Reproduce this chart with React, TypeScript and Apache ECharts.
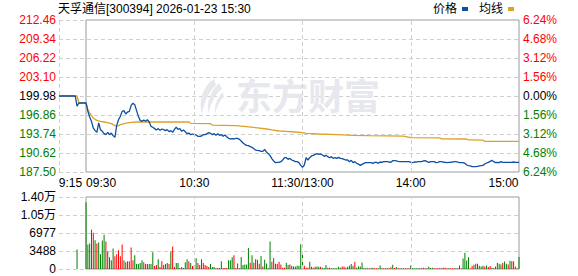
import React, { useEffect, useRef } from 'react';
import * as echarts from 'echarts';

const TITLE = '天孚通信[300394] 2026-01-23 15:30';
const PREV_CLOSE = 199.98;
const PRICE_MIN = 187.5;
const PRICE_MAX = 212.46;
const PRICE_STEP = 3.12;
const VOL_MAX = 13954;
const VOL_STEP = 3488.5;
const X_MAX = 255;
const X_LABELS: Record<number, string> = { 0: '9:15', 15: '09:30', 75: '10:30', 135: '11:30/13:00', 195: '14:00', 255: '15:00' };
const X_GRID_TOP = [0, 75, 135, 195];
const X_GRID_VOL = [75, 135, 195];
const LEGEND = ['价格', '均线'];

// minute index 0 = 9:15, 15 = 9:30, 135 = 11:30/13:00, 255 = 15:00
const PRICE: number[] = [
  199.98, 199.98, 199.98, 199.98, 199.98, 199.98, 199.98, 199.98, 199.98, 199.98,
  198.30, 198.83, 198.83, 198.83, 198.83, 198.83, 197.46, 196.53, 195.82, 194.73,
  194.29, 194.01, 195.55, 194.45, 194.18, 193.79, 193.63, 194.01, 193.63, 193.90,
  193.47, 193.20, 195.16, 196.09, 196.64, 197.46, 197.57, 197.03, 197.35, 197.46,
  198.45, 198.78, 198.56, 197.57, 196.64, 195.98, 195.82, 196.04, 195.82, 196.09,
  195.71, 195.00, 194.84, 194.62, 194.40, 194.62, 194.34, 194.56, 194.45, 194.29,
  194.45, 194.12, 194.29, 194.01, 194.51, 194.84, 194.51, 194.62, 194.18, 194.40,
  194.12, 193.79, 193.90, 193.63, 193.74, 193.63, 193.58, 193.36, 193.36, 193.41,
  193.63, 193.63, 193.79, 193.96, 193.85, 193.63, 193.79, 193.52, 193.79, 193.52,
  193.63, 193.36, 193.58, 193.30, 193.03, 192.92, 192.97, 192.92, 193.03, 193.03,
  192.86, 192.59, 192.26, 192.04, 191.88, 191.82, 191.66, 191.55, 191.33, 191.11,
  191.06, 191.00, 190.89, 190.89, 191.22, 190.78, 190.51, 190.18, 189.69, 189.31,
  189.03, 189.09, 189.09, 189.20, 189.47, 189.85, 189.85, 189.58, 189.74, 189.47,
  189.36, 189.20, 189.20, 189.03, 188.59, 188.27, 188.65, 189.85, 189.47, 189.85,
  190.13, 190.24, 190.40, 190.51, 190.40, 190.46, 190.29, 190.07, 190.24, 190.02,
  189.85, 190.02, 189.74, 189.85, 189.74, 189.91, 189.74, 189.69, 189.58, 189.47,
  189.47, 189.20, 189.42, 189.03, 189.20, 188.92, 188.81, 188.59, 188.76, 188.92,
  189.03, 189.03, 189.03, 189.03, 188.92, 189.09, 189.09, 188.92, 189.14, 189.09,
  189.20, 189.20, 189.20, 189.14, 189.09, 189.36, 189.36, 189.31, 189.25, 189.20,
  189.20, 189.20, 189.20, 189.20, 189.20, 189.09, 189.03, 189.14, 189.14, 189.20,
  189.20, 189.20, 189.31, 189.36, 189.20, 189.09, 189.20, 189.20, 189.20, 189.03,
  189.09, 189.20, 189.20, 189.14, 189.09, 189.03, 189.09, 189.09, 189.14, 189.20,
  189.20, 189.14, 189.03, 189.03, 189.03, 188.92, 188.65, 188.54, 188.49, 188.38,
  188.38, 188.38, 188.43, 188.49, 188.54, 188.59, 188.81, 188.98, 189.09, 189.25,
  189.42, 189.20, 189.03, 189.09, 189.03, 189.20, 189.09, 189.09, 189.09, 189.09,
  189.09, 189.09, 189.14, 189.09, 189.09, 189.09,
];

// average line vertices: [minute index, price]
const AVG_LINE: [number, number][] = [
  [0, 199.98], [10, 199.98], [11, 198.83], [15, 198.83], [16, 197.74], [17, 197.2], [18, 196.75],
  [19, 196.37], [20, 196.15], [21, 195.98], [23, 195.82], [25, 195.71], [27, 195.6], [29, 195.44],
  [31, 195.11], [32, 195.05], [33, 195.11], [34, 195.27], [36, 195.44], [38, 195.55], [40, 195.66],
  [43, 195.71], [72, 195.71], [73, 195.49], [84, 195.44], [85, 195.2], [98, 195.1], [104, 194.94],
  [109, 194.78], [115, 194.56], [118, 194.4], [122, 194.23], [126, 194.18], [131, 194.07],
  [135, 193.96], [137, 193.85], [144, 193.74], [154, 193.63], [163, 193.52], [172, 193.46],
  [191, 193.4], [195, 193.13], [211, 193.1], [212, 192.95], [226, 192.92], [227, 192.76],
  [235, 192.74], [236, 192.52], [255, 192.52],
];

const VOLUME: number[] = [
  0, 0, 0, 0, 0, 0, 0, 0, 0, 0,
  3800, 0, 0, 0, 0, 12934, 4755, 4945, 7608, 7037,
  5579, 4945, 5135, 2853, 5516, 6657, 5326, 3424, 2282, 1712,
  3994, 2473, 2853, 3614, 2473, 4755, 1712, 1331, 1522, 1522,
  4184, 1712, 2663, 951, 951, 1141, 1712, 1331, 951, 951,
  951, 951, 3233, 571, 761, 1902, 380, 1522, 761, 951,
  1141, 951, 3424, 4375, 380, 1141, 1141, 190, 380, 190,
  1331, 1902, 1522, 1141, 571, 761, 2092, 1141, 761, 1902,
  1141, 761, 571, 380, 951, 380, 380, 127, 190, 190,
  1522, 190, 190, 190, 1712, 1712, 2282, 2663, 190, 1050,
  127, 2346, 761, 888, 888, 4058, 1205, 2663, 1205, 1902,
  1775, 1014, 2536, 507, 1775, 1078, 190, 5326, 1395, 2156,
  1014, 1014, 1395, 888, 254, 254, 1205, 761, 888, 634,
  507, 507, 634, 634, 4818, 2916, 634, 254, 254, 1395,
  444, 254, 444, 507, 444, 444, 254, 190, 761, 254,
  254, 127, 127, 127, 127, 444, 254, 507, 507, 254,
  444, 634, 951, 634, 1395, 254, 507, 507, 1268, 127,
  127, 127, 127, 127, 254, 127, 127, 127, 697, 127,
  127, 127, 127, 127, 317, 824, 190, 380, 127, 127,
  127, 127, 127, 127, 127, 697, 127, 127, 127, 127,
  127, 127, 254, 127, 127, 444, 190, 254, 127, 127,
  127, 127, 127, 254, 254, 127, 127, 127, 127, 127,
  127, 127, 697, 127, 2029, 3170, 1648, 2282, 127, 571,
  824, 1014, 1014, 634, 507, 634, 507, 697, 380, 571,
  254, 127, 507, 1205, 1014, 888, 1141, 1458, 1014, 888,
  1585, 1522, 1522, 507, 127, 2346,
];

// 1 = up minute (red), 0 = down minute (green)
const VOL_UP: number[] = [
  0, 0, 0, 0, 0, 0, 0, 0, 0, 0,
  0, 0, 0, 0, 0, 0, 0, 0, 0, 1,
  0, 1, 0, 0, 0, 0, 1, 0, 1, 0,
  0, 1, 1, 1, 1, 1, 0, 1, 1, 1,
  1, 1, 0, 0, 0, 0, 0, 1, 1, 1,
  0, 0, 0, 1, 1, 0, 1, 1, 0, 0,
  0, 1, 0, 1, 1, 0, 0, 1, 0, 0,
  0, 0, 1, 0, 1, 1, 0, 1, 1, 0,
  1, 1, 1, 1, 0, 0, 0, 1, 1, 1,
  0, 1, 1, 1, 0, 0, 0, 1, 1, 1,
  0, 0, 0, 0, 0, 0, 1, 0, 1, 0,
  1, 1, 0, 1, 0, 0, 0, 0, 1, 0,
  0, 1, 1, 1, 1, 1, 0, 0, 1, 0,
  0, 0, 0, 0, 0, 0, 1, 1, 1, 0,
  1, 1, 1, 0, 0, 1, 0, 0, 0, 1,
  1, 0, 0, 0, 0, 0, 0, 1, 1, 0,
  0, 1, 0, 0, 1, 0, 0, 0, 0, 0,
  0, 0, 0, 1, 0, 1, 1, 0, 0, 1,
  1, 1, 0, 1, 1, 0, 1, 0, 1, 0,
  1, 1, 0, 1, 1, 0, 0, 0, 0, 0,
  1, 1, 1, 0, 1, 0, 0, 0, 1, 1,
  1, 0, 1, 1, 1, 1, 0, 1, 1, 1,
  0, 1, 0, 1, 0, 0, 0, 0, 1, 1,
  0, 1, 1, 0, 0, 0, 1, 0, 1, 1,
  0, 1, 1, 0, 0, 0, 1, 0, 0, 1,
  0, 1, 1, 1, 1, 0,
];

const RED = '#ff0000';
const GREEN = '#008000';
const BLUE = '#0d4fa3';
const ORANGE = '#dda225';
const GRID_LINE = '#cfcfcf';
const BOX = '#999999';
const WM = '#e7e8ed';
const FONT = '"Liberation Sans", Arial, "Noto Sans CJK SC", sans-serif';

const LOGO_D =
  'M16 0 C6 6 0 20 4 35 C6 24 10 14 18 6 Z M21 4 C12 12 9 24 10 35 C13 24 17 15 24 10 Z M25 13 C19 19 16 27 17 35 C19 27 22 21 26 18 Z';
let logoRegistered = false;
function ensureLogo() {
  if (logoRegistered) return;
  echarts.graphic.registerShape('dfcfLogo', echarts.graphic.extendPath(LOGO_D, {}) as any);
  logoRegistered = true;
}

function priceColor(v: number) {
  const d = v - PREV_CLOSE;
  if (d > 0.001) return RED;
  if (d < -0.001) return GREEN;
  return '#000000';
}

export default function App() {
  const ref = useRef<HTMLDivElement>(null);
  useEffect(() => {
    if (!ref.current) return;
    ensureLogo();
    const chart = echarts.init(ref.current, undefined, { renderer: 'svg' });

    const priceData = PRICE.map((p, i) => [i, p]);
    const volData = VOLUME.map((v, i) => ({ v, i }))
      .filter((d) => d.v > 0)
      .map((d) => ({ value: [d.i, d.v], itemStyle: { color: VOL_UP[d.i] ? RED : GREEN } }));

    const dashed = { type: [4, 3] as any, color: GRID_LINE, width: 1 };
    const vMarkLine = (vals: number[]) => ({
      silent: true,
      symbol: ['none', 'none'],
      label: { show: false },
      lineStyle: dashed,
      emphasis: { disabled: true },
      animation: false,
      data: vals.map((x) => ({ xAxis: x })),
    });

    const hiddenX = (gridIndex: number) => ({ type: 'value', gridIndex, min: 0, max: X_MAX, show: false });
    const hiddenY = (gridIndex: number) => ({ type: 'value', gridIndex, min: 0, max: 1, show: false });

    const option: any = {
      animation: false,
      backgroundColor: '#ffffff',
      textStyle: { fontFamily: FONT },
      title: {
        text: TITLE,
        left: 58,
        top: 3,
        padding: 0,
        textStyle: { fontSize: 12, fontWeight: 'normal', color: '#000', fontFamily: FONT },
      },
      legend: {
        data: LEGEND.map((n) => ({ name: n, icon: 'rect' })),
        right: 64,
        top: 3,
        padding: 0,
        align: 'right',
        itemWidth: 6,
        itemHeight: 4,
        itemGap: 11,
        selectedMode: false,
        textStyle: { fontSize: 12, color: '#000', fontFamily: FONT },
      },
      graphic: [
        { type: 'dfcfLogo', x: 198, y: 79, silent: true, z: 1, style: { fill: WM } },
        {
          type: 'text',
          x: 236,
          y: 76,
          silent: true,
          z: 1,
          style: { text: '东方财富', fontSize: 36, fontWeight: 'bold', fontFamily: '"Noto Sans CJK SC"', fill: WM },
        },
      ],
      grid: [
        { left: 59, right: 59, top: 20, height: 152, outerBoundsMode: 'none' },
        { left: 86, right: 59, top: 20, height: 152, show: true, borderColor: BOX, borderWidth: 1, backgroundColor: 'transparent', outerBoundsMode: 'none' },
        { left: 59, right: 59, top: 197, height: 72, outerBoundsMode: 'none' },
        { left: 86, right: 59, top: 197, height: 72, show: true, borderColor: BOX, borderWidth: 1, backgroundColor: 'transparent', outerBoundsMode: 'none' },
      ],
      xAxis: [
        {
          type: 'value',
          gridIndex: 0,
          min: 0,
          max: X_MAX,
          interval: 15,
          axisLine: { show: false },
          axisTick: { show: false },
          splitLine: { show: false },
          axisLabel: {
            margin: 5,
            fontSize: 12,
            color: '#000',
            fontFamily: FONT,
            showMinLabel: true,
            showMaxLabel: true,
            formatter: (v: number) => {
              const s = X_LABELS[Math.round(v)];
              if (!s) return '';
              if (v === 0) return `{a|${s}}`;
              if (v === 15) return `{b|${s}}`;
              if (v === X_MAX) return `{r|${s}}`;
              return `{c|${s}}`;
            },
            rich: {
              a: { fontSize: 12, fontFamily: FONT, color: '#000', padding: [0, 0, 0, 23] },
              b: { fontSize: 12, fontFamily: FONT, color: '#000', padding: [0, 0, 0, 30] },
              r: { fontSize: 12, fontFamily: FONT, color: '#000', padding: [0, 31, 0, 0] },
              c: { fontSize: 12, fontFamily: FONT, color: '#000' },
            },
          },
        },
        hiddenX(1),
        hiddenX(2),
        hiddenX(3),
      ],
      yAxis: [
        {
          type: 'value',
          gridIndex: 0,
          min: PRICE_MIN,
          max: PRICE_MAX,
          interval: PRICE_STEP,
          axisLine: { show: false },
          axisTick: { show: false },
          splitLine: { show: true, lineStyle: dashed },
          axisLabel: {
            margin: 3,
            fontSize: 12,
            fontFamily: FONT,
            formatter: (v: number) => Number(v).toFixed(2),
            color: (v: any) => priceColor(Number(v)),
          },
        },
        {
          type: 'value',
          gridIndex: 0,
          position: 'right',
          min: PRICE_MIN,
          max: PRICE_MAX,
          interval: PRICE_STEP,
          axisLine: { show: false },
          axisTick: { show: false },
          splitLine: { show: false },
          axisLabel: {
            margin: 4,
            fontSize: 12,
            fontFamily: FONT,
            formatter: (v: number) => ((Math.abs(Number(v) - PREV_CLOSE) / PREV_CLOSE) * 100).toFixed(2) + '%',
            color: (v: any) => priceColor(Number(v)),
          },
        },
        hiddenY(1),
        {
          type: 'value',
          gridIndex: 2,
          min: 0,
          max: VOL_MAX,
          interval: VOL_STEP,
          axisLine: { show: false },
          axisTick: { show: false },
          splitLine: { show: true, lineStyle: dashed },
          axisLabel: {
            margin: 3,
            fontSize: 12,
            fontFamily: FONT,
            color: '#000',
            formatter: (v: number) => (v >= 10000 ? (v / 10000).toFixed(2) + '万' : String(Math.floor(v))),
          },
        },
        hiddenY(3),
      ],
      series: [
        {
          name: '价格',
          type: 'line',
          xAxisIndex: 0,
          yAxisIndex: 0,
          data: priceData,
          showSymbol: false,
          symbol: 'none',
          color: BLUE,
          lineStyle: { color: BLUE, width: 1.3 },
          z: 4,
          markLine: vMarkLine(X_GRID_TOP),
        },
        {
          name: '均线',
          type: 'line',
          xAxisIndex: 0,
          yAxisIndex: 0,
          data: AVG_LINE,
          showSymbol: false,
          symbol: 'none',
          color: ORANGE,
          lineStyle: { color: ORANGE, width: 1.3 },
          z: 3,
        },
        {
          name: 'vol',
          type: 'bar',
          xAxisIndex: 2,
          yAxisIndex: 3,
          barWidth: 1,
          data: volData,
          z: 3,
          markLine: vMarkLine(X_GRID_VOL),
        },
      ],
    };

    chart.setOption(option);
    return () => chart.dispose();
  }, []);

  return (
    <div
      ref={ref}
      style={{ position: 'absolute', left: 0, top: 0, width: 578, height: 276, background: '#fff' }}
    />
  );
}
